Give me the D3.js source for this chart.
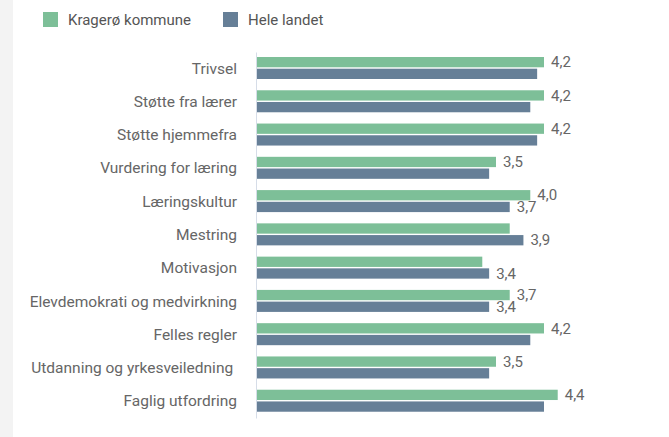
<!DOCTYPE html>
<html>
<head>
<meta charset="utf-8">
<script src="https://cdn.jsdelivr.net/npm/d3@7"></script>
<style>
    body { margin: 0; background: #fff; }
    #chart { width: 669px; height: 437px; }
    text { font-family: Roboto, "Noto Sans", sans-serif; }
</style>
</head>
<body>
<div id="chart"></div>
<script>
// data
let categories = ["Trivsel", "Støtte fra lærer", "Støtte hjemmefra", "Vurdering for læring",
    "Læringskultur", "Mestring", "Motivasjon", "Elevdemokrati og medvirkning",
    "Felles regler", "Utdanning og yrkesveiledning\u00a0", "Faglig utfordring"];
let series = ["Kragerø kommune", "Hele landet"];
let kragero = [4.2, 4.2, 4.2, 3.5, 4.0, 3.7, 3.3, 3.7, 4.2, 3.5, 4.4];
let landet = [4.1, 4.0, 4.1, 3.4, 3.7, 3.9, 3.4, 3.4, 4.0, 3.4, 4.2];
// which bars carry a value label in the original
let kragShown = [true, true, true, true, true, false, false, true, true, true, true];
let landShown = [false, false, false, false, true, true, true, true, false, false, false];

let colors = ['#7dbf98', '#667f97'];

let width = 669, height = 437;

let svg = d3.select("#chart").append("svg")
    .attr("width", width)
    .attr("height", height);

// grey strip on the left edge
svg.append("rect")
    .attr("x", 0).attr("y", 0)
    .attr("width", 13).attr("height", height)
    .attr("fill", "#f3f3f3");

let x = d3.scaleLinear()
    .domain([0, 4.2])
    .range([256, 544]);

let y = d3.scaleBand()
    .domain(categories)
    .range([52, 418]);

let ySub = d3.scaleBand()
    .domain(series)
    .range([5, 27])
    .paddingInner(0.12);

// legend
let legend = svg.append("g").attr("class", "legend");
let legendX = [43, 223];
series.forEach((s, i) => {
    legend.append("rect")
        .attr("x", legendX[i]).attr("y", 12)
        .attr("width", 15).attr("height", 15)
        .attr("fill", colors[i]);
    legend.append("text")
        .attr("x", legendX[i] + 25).attr("y", 20)
        .attr("dy", "0.35em")
        .attr("font-size", 15)
        .attr("fill", "#555")
        .text(s);
});

// groups
let groups = svg.selectAll(".group")
    .data(categories)
    .enter()
    .append("g")
    .attr("class", "group")
    .attr("transform", d => `translate(0, ${y(d)})`);

let rows = categories.map((c, i) => [
    {key: series[0], value: kragero[i], shown: kragShown[i], color: colors[0]},
    {key: series[1], value: landet[i], shown: landShown[i], color: colors[1]}
]);

groups.selectAll("rect")
    .data((d, i) => rows[i])
    .enter()
    .append("rect")
    .attr("x", x(0))
    .attr("y", d => ySub(d.key))
    .attr("width", d => x(d.value) - x(0))
    .attr("height", ySub.bandwidth())
    .attr("fill", d => d.color);

groups.selectAll(".val")
    .data((d, i) => rows[i].filter(r => r.shown))
    .enter()
    .append("text")
    .attr("class", "val")
    .attr("x", d => x(d.value) + 7)
    .attr("y", d => ySub(d.key) + ySub.bandwidth() / 2)
    .attr("dy", "0.35em")
    .attr("font-size", 15)
    .attr("fill", "#666")
    .text(d => d3.format(".1f")(d.value).replace(".", ","));

// category axis
let yAxis = d3.axisLeft(y).tickSize(0).tickPadding(19);
let ag = svg.append("g")
    .attr("transform", `translate(${x(0)}, 0)`)
    .call(yAxis);
ag.select(".domain").attr("stroke", "#d6dde8");
ag.selectAll("text")
    .attr("font-size", 15.5)
    .attr("fill", "#666")
    .style("font-family", "Roboto, sans-serif");
</script>
</body>
</html>
